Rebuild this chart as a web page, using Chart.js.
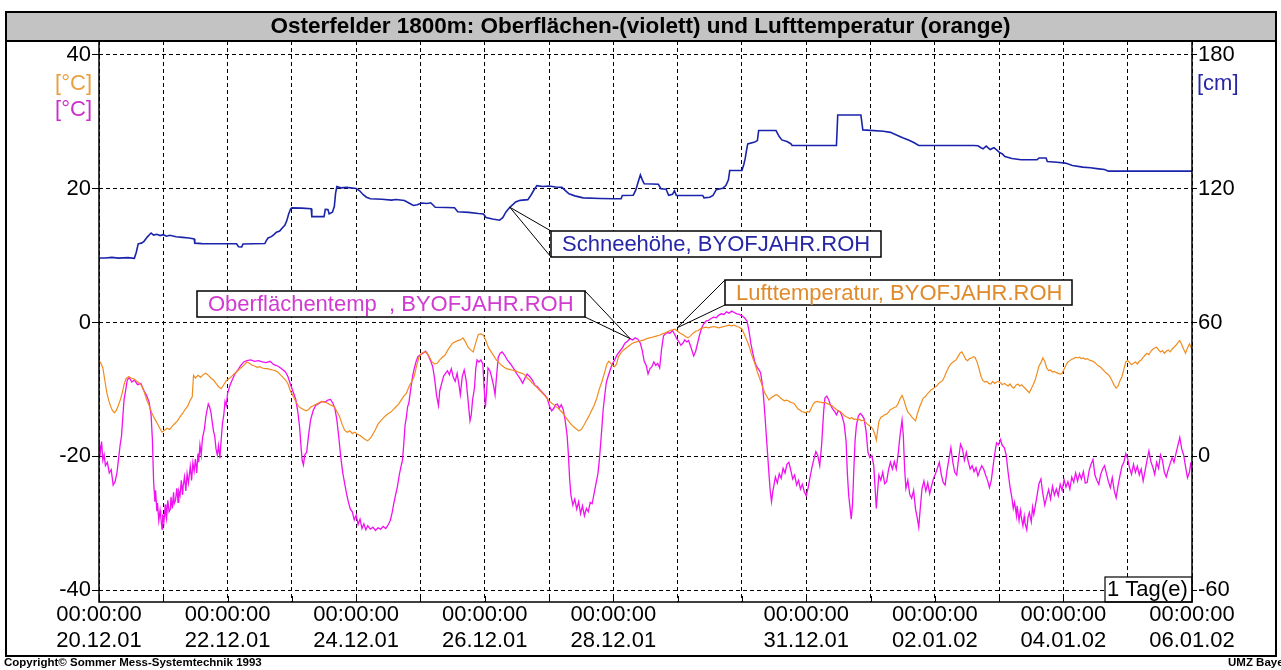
<!DOCTYPE html>
<html><head><meta charset="utf-8">
<script src="https://cdn.jsdelivr.net/npm/chart.js@4.4.1/dist/chart.umd.min.js"></script>
<style>html,body{margin:0;padding:0;background:#fff}canvas{display:block}</style>
</head><body>
<canvas id="c" width="1281" height="670"></canvas>
<script>
const FONT = "'Liberation Sans', Arial, sans-serif";
const chartTitle = 'Osterfelder 1800m: Oberflächen-(violett) und Lufttemperatur (orange)';
const gridDays = [0,1,2,3,4,5,6,7,8,9,10,11,12,13,14,15,16,17];
const labelDays = [0,2,4,6,8,11,13,15,17];
const labelDates = ['20.12.01','22.12.01','24.12.01','26.12.01','28.12.01','31.12.01','02.01.02','04.01.02','06.01.02'];
const labelTime = '00:00:00';
const tempTicks = [-40,-20,0,20,40];
const snowTicks = [-60,0,60,120,180];
const tempRange = [-41.79, 42.09];
const snowRange = [-65.37, 186.27];
const seriesNames = ['Schneehöhe, BYOFJAHR.ROH', 'Oberflächentemp  , BYOFJAHR.ROH', 'Lufttemperatur, BYOFJAHR.ROH'];
const unitLabels = ['[°C]', '[°C]', '[cm]'];
const footerLeft = 'Copyright© Sommer Mess-Systemtechnik 1993';
const footerRight = 'UMZ Bayern';
const intervalLabel = '1 Tag(e)';
// annotation tips in data coordinates [day, value]
const snowTip = [6.39, 111.7];
const surfTip = [8.26, -2.4];
const airTip = [8.99, -0.8];

// Schneehöhe [day, cm]
const snowDepth = [
[0.00,88.9],[0.10,88.9],[0.20,89.2],[0.30,88.9],[0.45,89.1],[0.55,88.8],[0.58,91.5],[0.61,95.3],[0.66,95.6],[0.70,96.4],
[0.75,98.3],[0.79,99.6],[0.81,100.1],[0.85,99.2],[0.90,99.6],[0.95,99.0],[1.00,99.4],[1.05,98.7],[1.10,99.1],[1.20,98.5],
[1.30,98.2],[1.40,97.9],[1.48,97.5],[1.49,95.6],[1.60,95.4],[1.80,95.3],[2.00,95.3],[2.14,95.3],[2.17,94.0],[2.22,93.9],
[2.24,95.2],[2.40,95.3],[2.58,95.4],[2.60,96.6],[2.63,97.9],[2.68,98.5],[2.72,99.4],[2.76,100.5],[2.81,101.0],[2.85,102.4],
[2.89,103.6],[2.92,105.6],[2.95,108.7],[2.98,110.9],[3.00,111.4],[3.15,111.3],[3.30,111.0],[3.31,107.5],[3.50,107.5],[3.52,110.8],
[3.56,110.7],[3.58,108.7],[3.63,109.5],[3.66,112.0],[3.68,118.0],[3.70,121.0],[3.76,120.4],[3.85,120.6],[4.00,120.1],[4.05,119.2],
[4.11,117.3],[4.16,116.2],[4.22,115.5],[4.40,115.3],[4.55,114.9],[4.62,115.2],[4.75,114.7],[4.82,113.6],[4.89,112.5],[4.95,112.8],
[5.02,113.6],[5.10,113.4],[5.16,113.7],[5.23,111.7],[5.40,111.6],[5.53,111.5],[5.58,109.7],[5.75,109.4],[5.90,108.9],[5.98,108.7],
[6.02,107.1],[6.12,106.4],[6.23,105.9],[6.28,107.0],[6.33,109.6],[6.39,111.7],[6.44,113.0],[6.48,114.1],[6.55,114.8],[6.67,115.1],
[6.72,117.2],[6.76,119.2],[6.81,121.4],[6.90,121.0],[7.00,121.2],[7.10,120.8],[7.20,120.6],[7.25,119.3],[7.31,117.7],[7.40,116.8],
[7.53,115.9],[7.80,115.6],[8.00,115.5],[8.12,115.5],[8.14,117.0],[8.31,117.1],[8.35,119.5],[8.38,122.5],[8.42,126.2],[8.45,124.0],
[8.48,122.2],[8.60,122.1],[8.70,122.0],[8.74,120.0],[8.82,119.8],[8.86,117.1],[8.92,117.5],[8.95,119.1],[8.98,117.0],[9.20,117.0],
[9.39,117.0],[9.41,115.9],[9.50,116.2],[9.55,117.0],[9.60,119.6],[9.70,120.2],[9.75,121.4],[9.79,124.0],[9.81,128.2],[10.00,128.2],
[10.03,131.0],[10.05,133.5],[10.07,137.0],[10.09,140.1],[10.20,141.0],[10.24,141.6],[10.26,146.1],[10.53,146.1],[10.58,143.4],[10.62,141.9],
[10.70,141.2],[10.76,140.2],[10.78,139.4],[11.47,139.4],[11.49,153.1],[11.85,153.1],[11.88,146.4],[12.00,146.2],[12.20,145.8],[12.31,145.3],
[12.42,143.9],[12.50,142.9],[12.59,141.9],[12.68,140.6],[12.75,139.4],[13.40,139.4],[13.60,139.4],[13.67,139.3],[13.72,138.4],[13.75,137.9],
[13.80,139.1],[13.86,137.6],[13.92,138.4],[14.00,136.4],[14.05,135.6],[14.09,134.4],[14.20,133.6],[14.34,133.0],[14.59,133.0],[14.62,133.8],
[14.73,133.8],[14.75,132.2],[14.90,131.9],[15.03,131.5],[15.14,130.4],[15.30,129.7],[15.42,129.4],[15.55,128.9],[15.64,128.6],[15.70,127.9],
[16.00,127.9],[16.50,127.9],[17.00,127.9]
];

// Lufttemperatur [day, °C]
const airTemp = [
[0.00,-5.7],[0.03,-6.1],[0.06,-6.8],[0.09,-8.6],[0.12,-10.4],[0.15,-11.6],[0.18,-12.5],[0.21,-13.2],[0.24,-13.5],[0.27,-13.1],
[0.30,-12.4],[0.33,-11.6],[0.36,-10.6],[0.39,-9.3],[0.42,-8.4],[0.46,-8.1],[0.50,-8.3],[0.54,-8.4],[0.58,-8.7],[0.62,-9.0],
[0.66,-9.4],[0.70,-10.3],[0.74,-11.5],[0.78,-12.4],[0.82,-13.5],[0.86,-14.3],[0.90,-15.0],[0.94,-15.7],[0.98,-16.4],[1.02,-16.1],
[1.06,-15.8],[1.10,-16.0],[1.14,-15.5],[1.18,-15.1],[1.22,-14.7],[1.26,-14.1],[1.30,-13.6],[1.34,-13.0],[1.38,-12.5],[1.42,-11.6],
[1.45,-11.1],[1.47,-7.9],[1.50,-8.3],[1.54,-7.9],[1.58,-8.2],[1.62,-7.8],[1.66,-7.6],[1.70,-7.9],[1.74,-8.3],[1.78,-8.6],
[1.82,-9.1],[1.86,-9.6],[1.90,-9.9],[1.94,-9.3],[1.98,-8.7],[2.02,-8.4],[2.06,-8.1],[2.10,-7.7],[2.14,-7.4],[2.18,-7.0],
[2.22,-6.7],[2.26,-6.3],[2.30,-5.9],[2.34,-6.1],[2.38,-6.4],[2.42,-6.5],[2.46,-6.7],[2.50,-6.6],[2.54,-6.8],[2.58,-6.9],
[2.62,-6.9],[2.66,-7.0],[2.70,-7.1],[2.74,-7.2],[2.78,-7.4],[2.82,-7.8],[2.86,-8.2],[2.90,-8.6],[2.94,-9.2],[2.98,-10.3],
[3.02,-11.0],[3.06,-11.8],[3.10,-12.5],[3.14,-12.8],[3.18,-13.0],[3.22,-13.2],[3.26,-13.0],[3.30,-12.6],[3.34,-12.4],[3.38,-12.2],
[3.42,-12.0],[3.46,-11.8],[3.50,-11.9],[3.54,-12.0],[3.58,-12.2],[3.62,-12.4],[3.66,-12.6],[3.70,-13.3],[3.74,-14.0],[3.78,-15.2],
[3.82,-16.1],[3.86,-16.4],[3.90,-16.2],[3.94,-16.6],[3.98,-16.4],[4.02,-16.7],[4.06,-16.9],[4.10,-17.2],[4.14,-17.5],[4.18,-17.7],
[4.22,-17.3],[4.26,-16.7],[4.30,-16.0],[4.34,-15.2],[4.38,-14.7],[4.42,-14.3],[4.46,-13.9],[4.50,-13.6],[4.54,-13.4],[4.58,-13.0],
[4.62,-12.6],[4.66,-12.2],[4.70,-11.6],[4.74,-11.0],[4.78,-10.6],[4.82,-9.6],[4.86,-8.9],[4.90,-8.1],[4.94,-6.5],[4.98,-5.1],
[5.02,-4.6],[5.06,-4.4],[5.10,-4.5],[5.14,-5.2],[5.18,-5.9],[5.22,-6.2],[5.26,-6.1],[5.30,-5.6],[5.34,-5.2],[5.38,-4.9],
[5.42,-4.2],[5.46,-3.6],[5.50,-3.1],[5.54,-2.9],[5.58,-2.7],[5.62,-2.6],[5.66,-2.3],[5.70,-2.9],[5.74,-3.7],[5.78,-4.1],
[5.82,-4.4],[5.86,-3.0],[5.90,-1.8],[5.94,-1.7],[5.98,-1.9],[6.02,-2.8],[6.06,-3.8],[6.10,-4.4],[6.14,-5.0],[6.18,-5.6],
[6.22,-6.0],[6.26,-6.4],[6.30,-6.7],[6.34,-6.9],[6.38,-7.0],[6.42,-7.1],[6.46,-7.2],[6.50,-7.3],[6.54,-7.5],[6.58,-7.6],
[6.62,-7.8],[6.66,-8.3],[6.70,-8.6],[6.74,-9.1],[6.78,-9.4],[6.82,-9.8],[6.86,-10.2],[6.90,-10.6],[6.94,-11.0],[6.98,-11.5],
[7.02,-11.9],[7.06,-12.2],[7.10,-12.5],[7.14,-12.8],[7.18,-13.2],[7.22,-13.6],[7.26,-14.2],[7.30,-14.7],[7.34,-15.2],[7.38,-15.6],
[7.42,-15.9],[7.46,-16.2],[7.50,-16.0],[7.54,-15.4],[7.58,-14.7],[7.62,-14.0],[7.66,-13.2],[7.70,-12.4],[7.74,-11.4],[7.78,-10.0],
[7.82,-8.9],[7.86,-7.6],[7.90,-6.2],[7.93,-5.8],[7.96,-6.1],[7.99,-6.4],[8.02,-6.6],[8.05,-6.2],[8.08,-5.1],[8.12,-4.5],
[8.16,-4.1],[8.20,-3.8],[8.24,-3.5],[8.28,-3.2],[8.32,-3.0],[8.36,-2.9],[8.40,-2.8],[8.44,-2.7],[8.48,-2.6],[8.52,-2.4],
[8.56,-2.3],[8.60,-2.2],[8.64,-2.1],[8.68,-2.0],[8.72,-1.9],[8.76,-1.7],[8.80,-1.6],[8.84,-1.4],[8.88,-1.2],[8.92,-1.1],
[8.96,-1.0],[9.00,-1.3],[9.04,-1.6],[9.08,-1.8],[9.12,-2.1],[9.16,-2.3],[9.20,-2.0],[9.24,-1.6],[9.28,-1.3],[9.32,-1.2],
[9.36,-0.9],[9.40,-0.8],[9.44,-0.7],[9.48,-0.8],[9.52,-0.7],[9.56,-0.6],[9.60,-0.7],[9.64,-0.8],[9.68,-0.7],[9.72,-0.6],
[9.76,-0.5],[9.80,-0.4],[9.84,-0.5],[9.88,-0.4],[9.92,-0.6],[9.96,-0.7],[10.00,-1.0],[10.03,-1.6],[10.06,-2.3],[10.09,-3.0],
[10.12,-3.8],[10.15,-4.8],[10.18,-5.6],[10.21,-6.4],[10.24,-7.4],[10.27,-8.2],[10.30,-9.0],[10.33,-9.9],[10.36,-10.6],[10.39,-11.1],
[10.42,-11.6],[10.45,-11.3],[10.48,-11.1],[10.51,-10.9],[10.54,-10.8],[10.57,-11.0],[10.60,-11.3],[10.63,-11.5],[10.66,-11.7],[10.69,-11.6],
[10.72,-11.7],[10.75,-11.9],[10.78,-12.0],[10.81,-12.1],[10.84,-12.5],[10.87,-12.9],[10.90,-13.1],[10.93,-13.3],[10.96,-13.4],[10.99,-13.5],
[11.02,-13.3],[11.05,-13.4],[11.08,-12.8],[11.11,-12.2],[11.14,-11.9],[11.17,-11.8],[11.20,-11.9],[11.23,-11.9],[11.26,-12.0],[11.29,-11.9],
[11.32,-12.1],[11.35,-12.2],[11.38,-12.4],[11.41,-12.5],[11.44,-12.8],[11.47,-13.0],[11.50,-13.2],[11.53,-13.3],[11.56,-13.6],[11.59,-13.9],
[11.62,-14.1],[11.65,-14.2],[11.68,-14.4],[11.71,-14.2],[11.74,-14.5],[11.77,-14.4],[11.80,-14.6],[11.83,-14.5],[11.86,-14.7],[11.89,-14.6],
[11.92,-14.9],[11.95,-15.2],[11.98,-15.4],[12.01,-15.6],[12.04,-16.0],[12.07,-16.8],[12.09,-17.6],[12.11,-16.2],[12.13,-14.8],[12.16,-14.2],
[12.19,-14.0],[12.22,-13.8],[12.25,-13.7],[12.28,-13.4],[12.31,-13.0],[12.34,-12.9],[12.37,-12.7],[12.40,-12.6],[12.43,-12.1],[12.46,-11.4],
[12.49,-10.9],[12.52,-11.6],[12.55,-12.6],[12.58,-13.4],[12.61,-13.7],[12.64,-14.1],[12.67,-14.4],[12.70,-14.7],[12.73,-13.6],[12.76,-12.7],
[12.79,-12.0],[12.82,-11.3],[12.85,-11.1],[12.88,-10.7],[12.91,-10.4],[12.94,-10.1],[12.97,-9.9],[13.00,-9.7],[13.03,-9.5],[13.06,-9.1],
[13.09,-8.9],[13.12,-8.7],[13.15,-8.1],[13.18,-7.4],[13.21,-6.8],[13.24,-6.3],[13.27,-6.0],[13.30,-5.8],[13.33,-5.6],[13.36,-5.1],
[13.39,-4.6],[13.42,-4.4],[13.45,-4.9],[13.48,-5.5],[13.51,-5.7],[13.54,-5.4],[13.57,-5.3],[13.60,-5.1],[13.63,-5.3],[13.66,-6.0],
[13.69,-7.0],[13.72,-8.1],[13.75,-8.7],[13.78,-8.9],[13.81,-8.8],[13.84,-9.1],[13.87,-9.2],[13.90,-8.8],[13.93,-9.1],[13.96,-8.9],
[13.99,-8.8],[14.02,-9.0],[14.05,-9.3],[14.08,-9.1],[14.11,-9.3],[14.14,-9.5],[14.17,-9.2],[14.20,-9.6],[14.23,-9.8],[14.26,-9.4],
[14.29,-9.2],[14.32,-9.5],[14.35,-9.3],[14.38,-9.6],[14.41,-9.9],[14.44,-10.2],[14.47,-10.5],[14.50,-9.9],[14.53,-9.3],[14.56,-8.6],
[14.59,-7.6],[14.62,-6.5],[14.65,-6.0],[14.68,-5.3],[14.71,-5.8],[14.74,-6.8],[14.77,-7.2],[14.80,-7.1],[14.83,-7.4],[14.86,-7.3],
[14.89,-7.5],[14.92,-7.6],[14.95,-7.7],[14.98,-7.6],[15.01,-7.0],[15.04,-6.4],[15.07,-5.9],[15.10,-5.7],[15.13,-5.5],[15.16,-5.4],
[15.19,-5.2],[15.22,-5.3],[15.25,-5.2],[15.28,-5.4],[15.31,-5.3],[15.34,-5.5],[15.37,-5.4],[15.40,-5.6],[15.43,-5.7],[15.46,-5.8],
[15.49,-6.0],[15.52,-6.3],[15.55,-6.5],[15.58,-6.7],[15.61,-7.0],[15.64,-7.3],[15.67,-7.6],[15.70,-7.8],[15.73,-8.2],[15.76,-8.8],
[15.79,-9.4],[15.82,-9.8],[15.85,-9.5],[15.88,-8.7],[15.91,-8.1],[15.94,-7.0],[15.97,-5.9],[16.00,-5.7],[16.03,-6.0],[16.06,-6.3],
[16.09,-6.1],[16.12,-5.9],[16.15,-6.2],[16.18,-5.8],[16.21,-5.6],[16.24,-5.2],[16.27,-4.9],[16.30,-4.6],[16.33,-4.8],[16.36,-4.3],
[16.39,-4.0],[16.42,-3.8],[16.45,-3.7],[16.48,-4.1],[16.51,-4.4],[16.54,-4.2],[16.57,-4.6],[16.60,-4.3],[16.63,-4.1],[16.66,-4.4],
[16.69,-4.0],[16.72,-3.7],[16.75,-3.4],[16.78,-3.0],[16.81,-2.7],[16.84,-3.3],[16.87,-4.0],[16.90,-4.6],[16.93,-3.8],[16.96,-3.2],
[16.98,-3.6],[17.00,-4.0]
];

// Oberflächentemperatur [day, °C]
const surfaceTemp = [
[0.00,-17.6],[0.02,-19.5],[0.04,-17.8],[0.06,-20.6],[0.08,-19.8],[0.10,-21.4],[0.13,-20.9],[0.16,-22.5],[0.19,-22.0],[0.22,-24.3],
[0.25,-23.8],[0.28,-22.4],[0.31,-19.9],[0.33,-18.2],[0.35,-17.0],[0.37,-14.2],[0.39,-11.5],[0.41,-10.4],[0.44,-8.6],[0.47,-8.2],
[0.51,-8.9],[0.55,-8.6],[0.60,-9.3],[0.65,-9.1],[0.70,-10.2],[0.74,-10.9],[0.78,-11.9],[0.81,-13.8],[0.83,-17.4],[0.85,-23.9],
[0.87,-26.8],[0.88,-25.1],[0.90,-28.2],[0.91,-27.0],[0.93,-29.6],[0.95,-28.1],[0.96,-29.0],[0.98,-30.9],[0.99,-28.7],[1.01,-29.8],
[1.03,-27.2],[1.04,-28.9],[1.05,-29.4],[1.07,-26.6],[1.09,-28.3],[1.11,-27.9],[1.12,-26.1],[1.14,-27.8],[1.16,-25.4],[1.17,-27.1],
[1.19,-26.6],[1.21,-24.8],[1.23,-26.9],[1.24,-25.2],[1.26,-25.9],[1.28,-23.6],[1.30,-25.8],[1.31,-24.4],[1.33,-23.1],[1.35,-25.2],
[1.37,-22.6],[1.39,-24.0],[1.40,-23.2],[1.42,-21.5],[1.44,-23.6],[1.46,-21.0],[1.48,-22.2],[1.50,-20.4],[1.52,-22.5],[1.54,-19.6],
[1.55,-20.9],[1.57,-18.3],[1.59,-19.8],[1.61,-17.2],[1.62,-16.8],[1.64,-15.9],[1.66,-14.2],
[1.68,-13.1],[1.70,-12.2],[1.72,-12.6],[1.74,-13.4],[1.76,-14.8],[1.78,-16.2],[1.80,-17.0],[1.82,-18.9],[1.84,-19.8],[1.86,-18.4],
[1.88,-20.3],[1.90,-17.6],[1.92,-15.1],[1.94,-13.9],[1.96,-11.8],[1.98,-12.4],[2.00,-10.6],[2.04,-9.3],[2.08,-8.4],[2.12,-7.6],
[2.16,-7.1],[2.20,-6.5],[2.25,-5.9],[2.30,-5.7],[2.36,-5.6],[2.42,-5.8],[2.48,-5.7],[2.54,-5.9],[2.60,-6.0],[2.66,-5.8],
[2.72,-6.3],[2.78,-6.5],[2.84,-6.9],[2.90,-7.4],[2.94,-8.1],[2.98,-9.3],[3.02,-10.4],[3.06,-11.5],[3.09,-13.2],[3.12,-15.6],
[3.14,-18.3],[3.16,-20.6],[3.18,-21.3],[3.20,-19.8],[3.23,-19.4],[3.26,-16.8],[3.29,-14.6],[3.33,-13.2],[3.37,-12.4],[3.42,-12.1],
[3.47,-11.8],[3.52,-11.9],[3.56,-11.6],[3.60,-11.5],[3.64,-12.1],[3.67,-12.9],[3.70,-14.6],[3.73,-17.2],[3.76,-20.1],[3.79,-22.4],
[3.82,-24.0],[3.85,-25.6],[3.88,-26.9],[3.91,-27.9],[3.94,-28.3],[3.97,-29.5],[4.00,-28.8],[4.03,-30.2],[4.06,-29.4],[4.09,-30.8],
[4.12,-30.1],[4.15,-31.0],[4.18,-30.4],[4.22,-30.9],[4.26,-30.6],[4.30,-31.1],[4.34,-30.7],[4.38,-30.9],[4.42,-30.5],[4.46,-30.8],
[4.50,-30.2],[4.53,-29.6],[4.56,-28.4],[4.58,-27.3],[4.61,-25.9],[4.64,-24.6],[4.67,-22.8],[4.70,-21.4],[4.72,-20.6],[4.74,-18.2],
[4.76,-15.4],[4.78,-14.2],[4.80,-12.6],[4.82,-12.0],[4.85,-9.8],[4.88,-7.9],[4.90,-7.0],[4.93,-5.9],[4.96,-5.1],[5.00,-4.8],
[5.04,-4.6],[5.08,-4.3],[5.12,-4.9],[5.16,-5.8],[5.19,-6.6],[5.22,-8.4],[5.25,-10.9],[5.28,-12.4],[5.30,-10.2],[5.33,-9.1],
[5.36,-8.0],[5.39,-7.6],[5.42,-7.2],[5.45,-7.8],[5.48,-6.9],[5.51,-8.2],[5.54,-8.8],[5.57,-7.6],[5.60,-9.4],[5.62,-10.8],
[5.65,-8.1],[5.68,-7.1],[5.71,-8.6],[5.74,-11.6],[5.77,-14.7],[5.79,-13.8],[5.81,-11.6],[5.84,-9.8],[5.86,-6.9],[5.88,-5.6],
[5.91,-5.9],[5.94,-5.6],[5.97,-6.2],[5.99,-9.8],[6.01,-12.7],[6.03,-10.1],[6.05,-6.8],[6.08,-7.2],[6.11,-8.3],[6.14,-9.6],
[6.16,-10.8],[6.18,-8.4],[6.21,-5.2],[6.24,-4.6],[6.27,-4.4],[6.31,-4.9],[6.35,-5.6],[6.40,-6.2],[6.45,-6.9],[6.50,-7.7],
[6.55,-8.4],[6.59,-9.1],[6.63,-8.2],[6.66,-7.7],[6.70,-8.1],[6.74,-8.6],[6.78,-9.4],[6.82,-9.6],[6.86,-10.1],[6.90,-10.5],
[6.94,-10.9],[6.97,-11.3],[7.01,-12.6],[7.04,-13.2],[7.07,-12.9],[7.10,-12.3],[7.13,-12.2],[7.16,-12.8],[7.19,-12.3],[7.22,-13.0],
[7.25,-14.6],[7.28,-16.8],[7.30,-19.6],[7.32,-23.4],[7.34,-25.8],[7.37,-27.3],[7.40,-26.4],[7.43,-27.9],[7.46,-26.8],[7.49,-28.6],
[7.52,-27.4],[7.55,-28.9],[7.58,-27.8],[7.61,-28.3],[7.64,-26.9],[7.67,-27.1],[7.70,-25.6],[7.73,-24.1],[7.76,-22.6],[7.78,-20.8],
[7.80,-18.4],[7.82,-15.9],[7.84,-13.2],[7.86,-11.4],[7.89,-9.0],[7.92,-8.0],[7.95,-7.1],[7.98,-6.3],[8.02,-5.6],[8.06,-4.8],
[8.10,-4.3],[8.14,-3.8],[8.18,-3.1],[8.22,-2.8],[8.26,-2.4],[8.30,-2.6],[8.34,-2.3],[8.38,-2.5],[8.42,-3.1],[8.45,-4.2],
[8.48,-5.8],[8.51,-6.4],[8.54,-7.7],[8.57,-6.9],[8.60,-6.6],[8.63,-5.9],[8.66,-6.4],[8.69,-6.1],[8.72,-6.8],[8.75,-4.0],
[8.78,-2.0],[8.81,-1.7],[8.84,-1.5],[8.88,-1.6],[8.92,-1.2],[8.96,-1.9],[8.99,-2.5],[9.02,-2.9],[9.05,-3.4],[9.08,-3.1],
[9.11,-2.6],[9.14,-2.9],[9.17,-2.7],[9.20,-3.5],[9.23,-4.4],[9.25,-5.0],[9.28,-4.3],[9.31,-3.1],[9.34,-1.9],[9.37,-0.9],
[9.40,-0.3],[9.44,0.2],[9.48,0.3],[9.52,0.6],[9.56,0.8],[9.60,0.7],[9.64,1.1],[9.68,1.3],[9.72,1.2],[9.76,1.6],
[9.80,1.4],[9.84,1.7],[9.88,1.5],[9.92,1.3],[9.96,1.2],[10.00,1.0],[10.04,0.7],[10.08,0.2],[10.11,-1.3],[10.14,-3.2],
[10.17,-4.6],[10.20,-5.9],[10.23,-6.6],[10.26,-7.0],[10.29,-7.5],[10.32,-9.4],[10.34,-11.6],[10.36,-14.2],[10.38,-17.0],[10.40,-19.8],
[10.42,-22.6],[10.44,-25.2],[10.46,-26.8],[10.48,-25.3],[10.50,-24.2],[10.52,-23.1],[10.55,-24.0],[10.58,-22.6],[10.61,-23.3],[10.64,-21.8],
[10.67,-22.5],[10.70,-21.2],[10.73,-20.9],[10.76,-22.1],[10.79,-23.4],[10.82,-22.8],[10.85,-24.3],[10.88,-23.6],[10.91,-24.9],[10.94,-24.2],
[10.97,-25.3],[11.00,-25.9],[11.03,-24.7],[11.06,-23.1],[11.09,-21.6],[11.12,-20.4],[11.15,-19.3],[11.18,-19.9],[11.21,-21.4],[11.24,-18.2],
[11.27,-13.4],[11.29,-11.3],[11.32,-11.0],[11.35,-11.6],[11.38,-12.4],[11.41,-12.9],[11.44,-13.3],[11.47,-13.8],[11.50,-13.2],[11.53,-13.4],
[11.56,-14.1],[11.59,-15.2],[11.62,-17.8],[11.64,-22.6],[11.66,-25.8],[11.68,-27.6],[11.70,-29.4],[11.72,-27.2],[11.74,-22.1],[11.76,-17.6],
[11.78,-15.4],[11.81,-14.0],[11.84,-13.6],[11.87,-13.9],[11.90,-14.4],[11.93,-16.2],[11.96,-19.4],[11.99,-20.2],[12.02,-19.9],[12.05,-21.4],
[12.07,-24.6],[12.09,-27.8],[12.11,-25.2],[12.13,-22.8],[12.16,-23.6],[12.19,-22.4],[12.22,-24.1],[12.25,-23.8],[12.28,-22.0],[12.31,-20.9],
[12.34,-21.9],[12.37,-20.8],[12.40,-21.9],[12.43,-19.6],[12.46,-16.8],[12.49,-14.6],[12.51,-16.9],[12.53,-21.8],[12.55,-24.8],[12.58,-23.6],
[12.61,-25.7],[12.64,-26.3],[12.67,-25.1],[12.70,-27.9],[12.73,-29.4],[12.75,-30.6],[12.77,-28.2],[12.80,-24.9],[12.83,-23.7],[12.86,-25.2],
[12.89,-24.0],[12.92,-25.6],[12.95,-24.4],[12.98,-23.3],[13.01,-22.6],[13.04,-21.8],[13.07,-20.9],[13.10,-22.7],[13.13,-23.9],[13.16,-24.3],
[13.19,-22.1],[13.22,-20.4],[13.25,-18.7],[13.28,-20.9],[13.31,-22.4],[13.34,-22.8],[13.37,-20.3],[13.40,-18.2],[13.43,-18.9],[13.46,-20.6],
[13.49,-19.4],[13.52,-20.8],[13.55,-21.9],[13.58,-21.4],[13.61,-22.3],[13.64,-21.7],[13.67,-22.9],[13.70,-22.1],[13.73,-21.4],[13.76,-21.9],
[13.79,-22.8],[13.82,-23.6],[13.85,-24.7],[13.88,-23.5],[13.91,-21.2],[13.94,-19.1],[13.96,-18.0],[13.99,-18.3],[14.02,-17.5],[14.05,-18.4],
[14.08,-18.7],[14.11,-19.8],[14.14,-22.4],[14.17,-24.6],[14.20,-26.3],[14.22,-27.8],[14.24,-26.9],[14.27,-28.9],[14.28,-27.4],[14.31,-29.6],
[14.33,-28.1],[14.34,-28.8],[14.37,-30.4],[14.39,-29.0],[14.40,-29.9],[14.43,-31.0],[14.45,-29.1],[14.47,-28.4],[14.50,-29.8],[14.52,-27.6],
[14.54,-28.7],[14.57,-27.0],[14.59,-25.9],[14.62,-24.1],[14.65,-23.4],
[14.68,-25.6],[14.71,-27.3],[14.74,-26.1],[14.77,-25.0],[14.80,-26.4],[14.83,-24.5],[14.86,-25.8],[14.89,-24.9],[14.92,-25.9],[14.95,-24.2],
[14.98,-25.1],[15.01,-23.5],[15.04,-24.6],[15.07,-23.8],[15.10,-24.9],[15.13,-23.1],[15.16,-23.9],[15.19,-22.5],[15.22,-23.7],[15.25,-22.6],
[15.28,-23.4],[15.31,-22.3],[15.34,-24.0],[15.37,-23.9],[15.40,-22.1],[15.43,-21.2],[15.46,-20.5],[15.49,-22.8],[15.52,-23.6],[15.55,-24.2],
[15.58,-22.7],[15.61,-21.9],[15.64,-21.4],[15.67,-22.6],[15.70,-23.8],[15.73,-24.7],[15.76,-23.2],[15.79,-25.1],[15.82,-26.2],[15.85,-24.4],
[15.88,-22.9],[15.91,-21.5],[15.94,-20.9],[15.97,-19.6],[16.00,-20.4],[16.03,-21.8],[16.06,-22.7],[16.09,-21.2],[16.12,-22.4],[16.15,-21.5],
[16.18,-22.8],[16.21,-21.9],[16.24,-23.7],[16.27,-22.2],[16.30,-20.6],[16.33,-19.2],[16.36,-20.8],[16.39,-21.6],[16.42,-22.7],[16.45,-20.9],
[16.48,-21.8],[16.51,-19.8],[16.54,-20.6],[16.57,-22.4],[16.60,-23.1],[16.63,-22.0],[16.66,-21.1],[16.69,-20.2],[16.72,-20.9],[16.75,-19.6],
[16.78,-18.4],[16.81,-17.2],[16.84,-18.9],[16.87,-19.8],[16.90,-21.6],[16.93,-23.2],[16.96,-22.4],[16.98,-21.1],[17.00,-21.4]
];

const toXY = arr => arr.map(p => ({x: p[0], y: p[1]}));

function callout(ctx, box, tip, text, color, anchors) {
  ctx.save();
  ctx.strokeStyle = '#000'; ctx.lineWidth = 1;
  ctx.beginPath();
  ctx.moveTo(anchors[0][0], anchors[0][1]); ctx.lineTo(tip.x, tip.y); ctx.lineTo(anchors[1][0], anchors[1][1]);
  ctx.stroke();
  ctx.fillStyle = '#fff';
  ctx.fillRect(box.x, box.y, box.w, box.h);
  ctx.lineWidth = 1.5;
  ctx.strokeRect(box.x, box.y, box.w, box.h);
  ctx.fillStyle = color;
  ctx.font = '22px ' + FONT;
  ctx.textBaseline = 'middle'; ctx.textAlign = 'left';
  ctx.fillText(text, box.x + 11, box.y + box.h / 2 + 1);
  ctx.restore();
}

const decor = {
  id: 'decor',
  beforeDraw(chart) {
    const ctx = chart.ctx, a = chart.chartArea;
    ctx.save();
    ctx.fillStyle = '#fff'; ctx.fillRect(0, 0, chart.width, chart.height);
    ctx.fillStyle = '#c3c3c3'; ctx.fillRect(6, 12, 1270, a.top - 12);
    ctx.restore();
  },
  afterDatasetsDraw(chart) {
    const ctx = chart.ctx, a = chart.chartArea;
    const xs = chart.scales.x, yT = chart.scales.yT, yS = chart.scales.yS;
    ctx.save();
    ctx.strokeStyle = '#000'; ctx.lineWidth = 1;
    gridDays.forEach(d => {
      const px = Math.round(xs.getPixelForValue(d)) + 0.5;
      ctx.beginPath(); ctx.moveTo(px, a.bottom); ctx.lineTo(px, a.bottom - 6); ctx.stroke();
    });
    ctx.restore();
    const sTip = {x: xs.getPixelForValue(snowTip[0]), y: yS.getPixelForValue(snowTip[1])};
    const oTip = {x: xs.getPixelForValue(surfTip[0]), y: yT.getPixelForValue(surfTip[1])};
    const lTip = {x: xs.getPixelForValue(airTip[0]), y: yT.getPixelForValue(airTip[1])};
    callout(ctx, {x: 551, y: 231, w: 330, h: 26}, sTip, seriesNames[0], '#2626a6', [[551, 231], [551, 257]]);
    callout(ctx, {x: 197, y: 291, w: 388, h: 26}, oTip, seriesNames[1], '#d03ad0', [[585, 291], [585, 317]]);
    callout(ctx, {x: 725, y: 280, w: 347, h: 25}, lTip, seriesNames[2], '#e08a2a', [[725, 280], [725, 305]]);
    ctx.save();
    ctx.fillStyle = '#fff'; ctx.fillRect(1105, 577, a.right - 1105, a.bottom - 577);
    ctx.strokeStyle = '#000'; ctx.lineWidth = 1.2; ctx.strokeRect(1105, 577, a.right - 1105, a.bottom - 577);
    ctx.fillStyle = '#000'; ctx.font = '22px ' + FONT; ctx.textBaseline = 'middle';
    ctx.fillText(intervalLabel, 1107, 590);
    ctx.restore();
  },
  afterDraw(chart) {
    const ctx = chart.ctx, a = chart.chartArea;
    ctx.save();
    ctx.strokeStyle = '#000';
    ctx.lineWidth = 1.5;
    ctx.strokeRect(a.left, a.top, a.right - a.left, a.bottom - a.top);
    ctx.lineWidth = 2;
    ctx.strokeRect(6, 12, 1270, 644);
    ctx.beginPath(); ctx.moveTo(6, a.top); ctx.lineTo(1276, a.top); ctx.stroke();
    ctx.font = '22px ' + FONT; ctx.textBaseline = 'middle';
    ctx.textAlign = 'right';
    ctx.fillStyle = '#eaa040'; ctx.fillText(unitLabels[0], 92, 84);
    ctx.fillStyle = '#cc30cc'; ctx.fillText(unitLabels[1], 92, 110);
    ctx.textAlign = 'left';
    ctx.fillStyle = '#2626a6'; ctx.fillText(unitLabels[2], 1197, 84);
    ctx.fillStyle = '#000'; ctx.font = 'bold 11.5px ' + FONT;
    ctx.textAlign = 'left'; ctx.fillText(footerLeft, 4, 663);
    ctx.fillText(footerRight, 1228, 663);
    ctx.restore();
  }
};

new Chart(document.getElementById('c'), {
  type: 'line',
  data: {
    datasets: [
      {label: 'Lufttemperatur', data: toXY(airTemp), yAxisID: 'yT', borderColor: '#f08c1e', borderWidth: 1.2, pointRadius: 0, tension: 0, fill: false},
      {label: 'Oberflächentemp', data: toXY(surfaceTemp), yAxisID: 'yT', borderColor: '#f010f0', borderWidth: 1.3, pointRadius: 0, tension: 0, fill: false},
      {label: 'Schneehöhe', data: toXY(snowDepth), yAxisID: 'yS', borderColor: '#1a24aa', borderWidth: 1.6, pointRadius: 0, tension: 0, fill: false}
    ]
  },
  options: {
    responsive: false, animation: false, events: [],
    layout: {padding: {top: 12, left: 0, right: 0, bottom: 14}},
    plugins: {
      legend: {display: false}, tooltip: {enabled: false},
      title: {display: true, text: chartTitle, color: '#000', padding: {top: 4, bottom: 4},
        font: {family: FONT, size: 22.5, weight: 'bold', lineHeight: '21px'}}
    },
    scales: {
      x: {type: 'linear', min: 0, max: 17,
        afterBuildTicks: ax => { ax.ticks = gridDays.map(v => ({value: v})); },
        afterFit: s => { s.height = 54; },
        grid: {color: '#000', lineWidth: 1, drawTicks: false},
        border: {display: false, dash: [4, 3]},
        ticks: {autoSkip: false, maxRotation: 0, minRotation: 0, padding: 0, color: '#000',
          font: {family: FONT, size: 22, lineHeight: '26px'},
          callback: v => { const i = labelDays.indexOf(v); return i < 0 ? '' : [labelTime, labelDates[i]]; }}
      },
      yT: {position: 'left', min: tempRange[0], max: tempRange[1],
        afterBuildTicks: ax => { ax.ticks = tempTicks.map(v => ({value: v})); },
        afterFit: s => { s.width = 99; },
        grid: {color: '#000', lineWidth: 1, drawTicks: true, tickLength: 7, tickColor: '#000'},
        border: {display: false, dash: [4, 3]},
        ticks: {padding: 1, color: '#000', font: {family: FONT, size: 22}, callback: v => String(v)}
      },
      yS: {position: 'right', min: snowRange[0], max: snowRange[1],
        afterBuildTicks: ax => { ax.ticks = snowTicks.map(v => ({value: v})); },
        afterFit: s => { s.width = 89; },
        grid: {drawOnChartArea: false, drawTicks: true, tickLength: 5, color: '#000'},
        border: {display: false},
        ticks: {padding: 1, color: '#000', font: {family: FONT, size: 22}, callback: v => String(v)}
      }
    }
  },
  plugins: [decor]
});
</script>
</body></html>
